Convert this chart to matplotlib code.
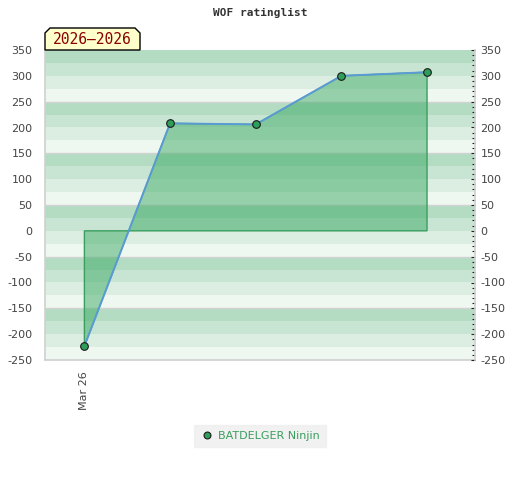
import matplotlib
matplotlib.use('Agg')
import matplotlib.pyplot as plt
from matplotlib.patches import Polygon
from matplotlib.ticker import MultipleLocator
import numpy as np

plt.rcParams['axes.unicode_minus'] = False

# rating history
dates = ['Mar 26', '', '', '', '']
ratings = [-223, 208, 206, 300, 307]
player = 'BATDELGER Ninjin'
period = '2026\u20132026'
title = 'WOF ratinglist'

yticks = list(range(-250, 351, 50))
band_colors = ['#b3dcc3', '#c8e5d3', '#dceee2', '#eff7f1']

fig = plt.figure(figsize=(5.2, 4.8), dpi=100)
ax = fig.add_axes([45 / 520, 120 / 480, 430 / 520, 310 / 480])
xs = np.arange(len(ratings))

# striped background, 25 per band, top down
top = 350
i = 0
while top > -250:
    ax.axhspan(top - 25, top, color=band_colors[i % 4], lw=0, zorder=0)
    top -= 25
    i += 1
for y in range(250, -251, -100):
    ax.axhline(y, color='#d2d2d2', lw=1, zorder=0.5)

# filled area between the line and zero
poly = [(xs[0], 0)] + list(zip(xs, ratings)) + [(xs[-1], 0)]
ax.add_patch(Polygon(poly, closed=True, facecolor=(60 / 255, 170 / 255, 100 / 255, 0.5),
                     edgecolor='#3a9e5f', lw=1, zorder=1))
ax.plot(xs, ratings, color='#5b9bd5', lw=1.4, zorder=2)
ax.plot(xs, ratings, 'o', ms=5.5, mfc='#2e9e5b', mec='#1a1a1a', mew=0.8, zorder=3,
        label=player)

ax.set_xlim(-0.46, 4.56)
ax.set_ylim(-250, 350)
ax.set_yticks(yticks)
ax.set_xticks(xs)
ax.set_xticklabels(dates, rotation=90, fontsize=8, color='#444444')
ax.tick_params(axis='x', length=0, pad=8)
ax.tick_params(axis='y', length=0, labelsize=8, labelcolor='#444444', pad=9)

for s in ['top', 'right']:
    ax.spines[s].set_visible(False)
for s in ['left', 'bottom']:
    ax.spines[s].set_color('#d0d0d0')
    ax.spines[s].set_linewidth(1.2)

ax2 = ax.twinx()
ax2.set_ylim(-250, 350)
ax2.set_yticks(yticks)
ax2.yaxis.set_minor_locator(MultipleLocator(10))
ax2.tick_params(axis='y', which='major', direction='in', length=3, width=0.8,
                color='#222222', labelsize=8, labelcolor='#444444', pad=4)
ax2.tick_params(axis='y', which='minor', direction='in', length=2, width=0.8, color='#222222')
for s in ['top', 'left', 'bottom']:
    ax2.spines[s].set_visible(False)
ax2.spines['right'].set_color('#d0d0d0')
ax2.spines['right'].set_linewidth(1.2)

fig.text(0.5, 1 - 13 / 480, title, ha='center', va='center', fontsize=8,
         family='DejaVu Sans Mono', fontweight='bold', color='#333333')

# period tag with cut corners
x0, x1, y0, y1, c = 45 / 520, 140 / 520, 1 - 50 / 480, 1 - 28 / 480, 5
cx, cy = c / 520, c / 480
tag = Polygon([(x0, y0), (x0, y1 - cy), (x0 + cx, y1), (x1 - cx, y1), (x1, y1 - cy), (x1, y0)],
              closed=True, transform=fig.transFigure, facecolor='#ffffcc',
              edgecolor='black', lw=1, zorder=5)
fig.add_artist(tag)
fig.text((x0 + x1) / 2, (y0 + y1) / 2 - 0.002, period, ha='center', va='center',
         fontsize=10.5, color='#8b0000', family='DejaVu Sans Mono', zorder=6)

leg = fig.legend(loc='center', bbox_to_anchor=(260 / 520, 1 - 436 / 480), frameon=True,
                 fontsize=8, handletextpad=0.4, handlelength=1.2, borderpad=0.55,
                 fancybox=False, markerscale=0.9)
leg.get_frame().set_facecolor('#eeeeee')
leg.get_frame().set_edgecolor('#eeeeee')
for t in leg.get_texts():
    t.set_color('#3a9e5f')

fig.savefig('out.png', dpi=100)
